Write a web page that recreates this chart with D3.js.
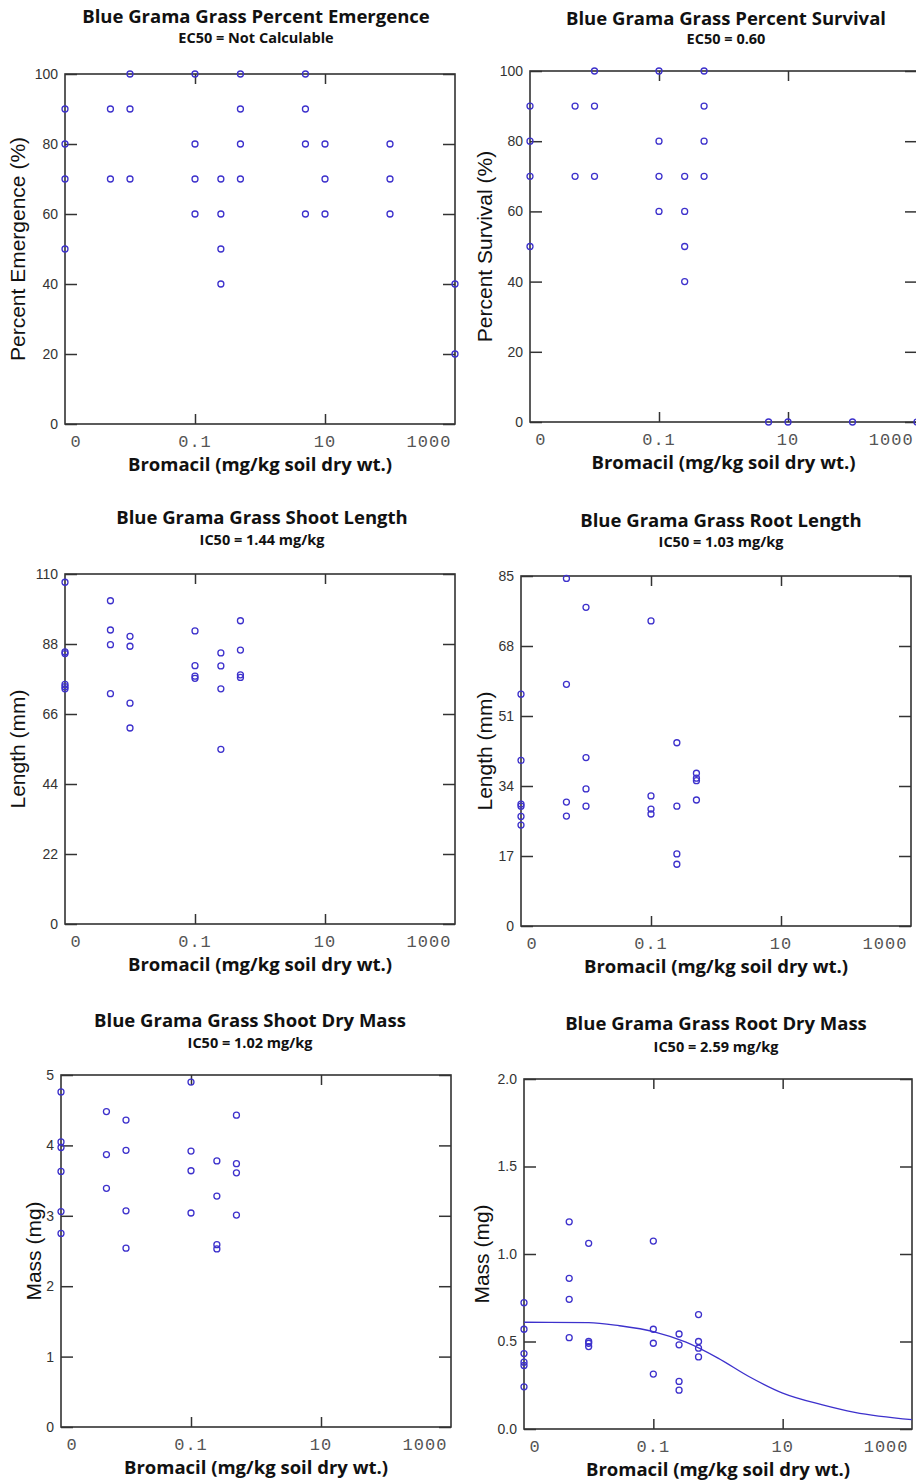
<!DOCTYPE html>
<html>
<head>
<meta charset="utf-8">
<script src="https://cdn.jsdelivr.net/npm/d3@7"></script>
<style>
  body { margin: 0; background: white; }
</style>
</head>
<body>
<div id="bigdiv"></div>
<script>
// dose groups (mg/kg), control (0) sits on the left edge of the log axis
const doses = [0, 0.005, 0.01, 0.1, 0.25, 0.5, 5, 10, 100, 1000]

const emergence = [[90, 80, 70, 50], [90, 70], [100, 90, 70], [100, 80, 70, 60], [70, 60, 50, 40],
    [100, 90, 80, 70], [100, 90, 80, 60], [80, 70, 60], [80, 70, 60], [40, 20]]
const survival = [[90, 80, 70, 50], [90, 70], [100, 90, 70], [100, 80, 70, 60], [70, 60, 50, 40],
    [100, 90, 80, 70], [0], [0], [0], [0]]
const shootLength = [[107.4, 85.5, 85.0, 75.3, 74.6, 73.9], [101.6, 92.4, 87.8, 72.4], [90.4, 87.3, 69.4, 61.6],
    [92.1, 81.2, 77.9, 77.2], [85.2, 81.1, 73.9, 54.9], [95.3, 86.1, 78.3, 77.5]]
const rootLength = [[56.3, 40.2, 29.6, 29.1, 26.6, 24.5], [84.4, 58.7, 30.1, 26.7], [77.4, 40.9, 33.3, 29.1],
    [74.1, 31.6, 28.4, 27.2], [44.5, 29.1, 17.5, 15.0], [37.1, 35.9, 35.3, 30.6]]
const shootMass = [[4.76, 4.05, 3.97, 3.63, 3.06, 2.75], [4.48, 3.87, 3.39], [4.36, 3.93, 3.07, 2.54],
    [4.90, 3.92, 3.64, 3.04], [3.78, 3.28, 2.59, 2.53], [4.43, 3.74, 3.61, 3.01]]
const rootMass = [[0.722, 0.570, 0.431, 0.382, 0.363, 0.241], [1.184, 0.861, 0.741, 0.522], [1.061, 0.500, 0.490, 0.471],
    [1.074, 0.570, 0.490, 0.314], [0.543, 0.481, 0.272, 0.222], [0.654, 0.500, 0.462, 0.412]]

// fitted curve for root dry mass
const rootFitDose = [0.001, 0.01, 0.03, 0.1, 0.32, 1, 3, 10, 40, 130, 1000]
const rootFitMass = [0.610, 0.608, 0.590, 0.557, 0.496, 0.405, 0.300, 0.205, 0.139, 0.095, 0.053]

const xTickLabels = ['0', '0.1', '10', '1000']
const xTickLabelAt = [Math.pow(10, -2.83), 0.1, 10, Math.pow(10, 2.6)]

const emergenceTicks = [0, 20, 40, 60, 80, 100]
const shootLengthTicks = [0, 22, 44, 66, 88, 110]
const rootLengthTicks = [0, 17, 34, 51, 68, 85]
const shootMassTicks = [0, 1, 2, 3, 4, 5]
const rootMassTicks = [0, 0.5, 1.0, 1.5, 2.0]

const blue = '#3d31cc'
const boldFont = 'Open Sans'

const panels = [
    { title: 'Blue Grama Grass Percent Emergence', sub: 'EC50 = Not Calculable', ylab: 'Percent Emergence (%)',
      vals: emergence, ticks: emergenceTicks, fmt: d3.format('d'), box: [65, 74, 455, 424], cx: 256, ty: 23, sy: 43, lx: 18 },
    { title: 'Blue Grama Grass Percent Survival', sub: 'EC50 = 0.60', ylab: 'Percent Survival (%)',
      vals: survival, ticks: emergenceTicks, fmt: d3.format('d'), box: [530, 71, 917, 422], cx: 726, ty: 25, sy: 44, lx: 485 },
    { title: 'Blue Grama Grass Shoot Length', sub: 'IC50 = 1.44 mg/kg', ylab: 'Length (mm)',
      vals: shootLength, ticks: shootLengthTicks, fmt: d3.format('d'), box: [65, 574, 455, 924], cx: 262, ty: 524, sy: 545, lx: 18 },
    { title: 'Blue Grama Grass Root Length', sub: 'IC50 = 1.03 mg/kg', ylab: 'Length (mm)',
      vals: rootLength, ticks: rootLengthTicks, fmt: d3.format('d'), box: [521, 576, 911, 926], cx: 721, ty: 527, sy: 547, lx: 485 },
    { title: 'Blue Grama Grass Shoot Dry Mass', sub: 'IC50 = 1.02 mg/kg', ylab: 'Mass (mg)',
      vals: shootMass, ticks: shootMassTicks, fmt: d3.format('d'), box: [61, 1075, 451, 1427], cx: 250, ty: 1027, sy: 1048, lx: 34 },
    { title: 'Blue Grama Grass Root Dry Mass', sub: 'IC50 = 2.59 mg/kg', ylab: 'Mass (mg)',
      vals: rootMass, ticks: rootMassTicks, fmt: d3.format('.1f'), box: [524, 1079, 912, 1429], cx: 716, ty: 1030, sy: 1052, lx: 482,
      fit: true }
]

let svg = d3.select('div#bigdiv').append('svg')
    .attr('width', 916).attr('height', 1484)
    .style('display', 'block').style('background', 'white')

panels.forEach(p => {
    let [l, t, r, b] = p.box
    let x = d3.scaleLog().domain([0.001, 1000]).range([l, r])
    let y = d3.scaleLinear().domain([0, d3.max(p.ticks)]).range([b, t])
    let g = svg.append('g')

    // titles
    g.append('text').text(p.title)
        .attr('x', p.cx).attr('y', p.ty).attr('text-anchor', 'middle')
        .style('font-family', boldFont).style('font-weight', 'bold').style('font-size', '18.5px').style('fill', '#111')
    g.append('text').text(p.sub)
        .attr('x', p.cx).attr('y', p.sy).attr('text-anchor', 'middle')
        .style('font-family', boldFont).style('font-weight', 'bold').style('font-size', '14.5px').style('fill', '#111')

    // ticks on four sides, all pointing inwards
    let left = g.append('g').attr('transform', 'translate(' + l + ',0)')
        .call(d3.axisLeft(y).tickValues(p.ticks).tickFormat(p.fmt).tickSize(-12).tickPadding(7))
    left.select('.domain').remove()
    left.selectAll('text').style('font-family', 'Liberation Sans').style('font-size', '14px').style('fill', '#333')
    let right = g.append('g').attr('transform', 'translate(' + r + ',0)')
        .call(d3.axisRight(y).tickValues(p.ticks).tickFormat('').tickSize(-12))
    right.select('.domain').remove()
    let top = g.append('g').attr('transform', 'translate(0,' + t + ')')
        .call(d3.axisTop(x).tickValues([0.1, 10]).tickFormat('').tickSize(-10))
    top.select('.domain').remove()
    let bottom = g.append('g').attr('transform', 'translate(0,' + b + ')')
        .call(d3.axisBottom(x).tickValues([0.1, 10]).tickFormat('').tickSize(-10))
    bottom.select('.domain').remove()
    g.selectAll('.tick line').attr('stroke', '#333').attr('stroke-width', 1.5)

    g.selectAll('text.xtl')
        .data(xTickLabels)
        .enter()
        .append('text')
        .attr('class', 'xtl')
        .attr('x', (d, i) => x(xTickLabelAt[i]))
        .attr('y', b + 23)
        .attr('text-anchor', 'middle')
        .style('font-family', 'Liberation Mono').style('font-size', '17px').style('letter-spacing', '1px')
        .style('fill', '#555')
        .text(d => d)

    g.append('rect')
        .attr('x', l).attr('y', t).attr('width', r - l).attr('height', b - t)
        .attr('fill', 'none').attr('stroke', '#333').attr('stroke-width', 1.6)

    // axis titles
    g.append('text').text('Bromacil (mg/kg soil dry wt.)')
        .attr('x', (l + r) / 2).attr('y', b + 47).attr('text-anchor', 'middle')
        .style('font-family', boldFont).style('font-weight', 'bold').style('font-size', '18.5px').style('fill', '#111')
    g.append('text').text(p.ylab)
        .attr('transform', 'translate(' + p.lx + ',' + (t + b) / 2 + ') rotate(-90)')
        .attr('text-anchor', 'middle').attr('dy', '0.35em')
        .style('font-family', 'Liberation Sans').style('font-size', '21px').style('fill', '#111')

    // fitted curve
    if (p.fit) {
        let line = d3.line()
            .x((d, i) => x(rootFitDose[i]))
            .y(d => y(d))
            .curve(d3.curveMonotoneX)
        g.append('path').datum(rootFitMass)
            .attr('d', line)
            .attr('fill', 'none').attr('stroke', blue).attr('stroke-width', 1.3)
    }

    // observations
    let pts = []
    p.vals.forEach((vs, di) => vs.forEach(v => pts.push({ dose: doses[di], v: v })))
    g.selectAll('circle.pt')
        .data(pts)
        .enter()
        .append('circle')
        .attr('class', 'pt')
        .attr('cx', d => x(d.dose === 0 ? 0.001 : d.dose))
        .attr('cy', d => y(d.v))
        .attr('r', 3)
        .attr('fill', 'none').attr('stroke', blue).attr('stroke-width', 1.3)
})
</script>
</body>
</html>
